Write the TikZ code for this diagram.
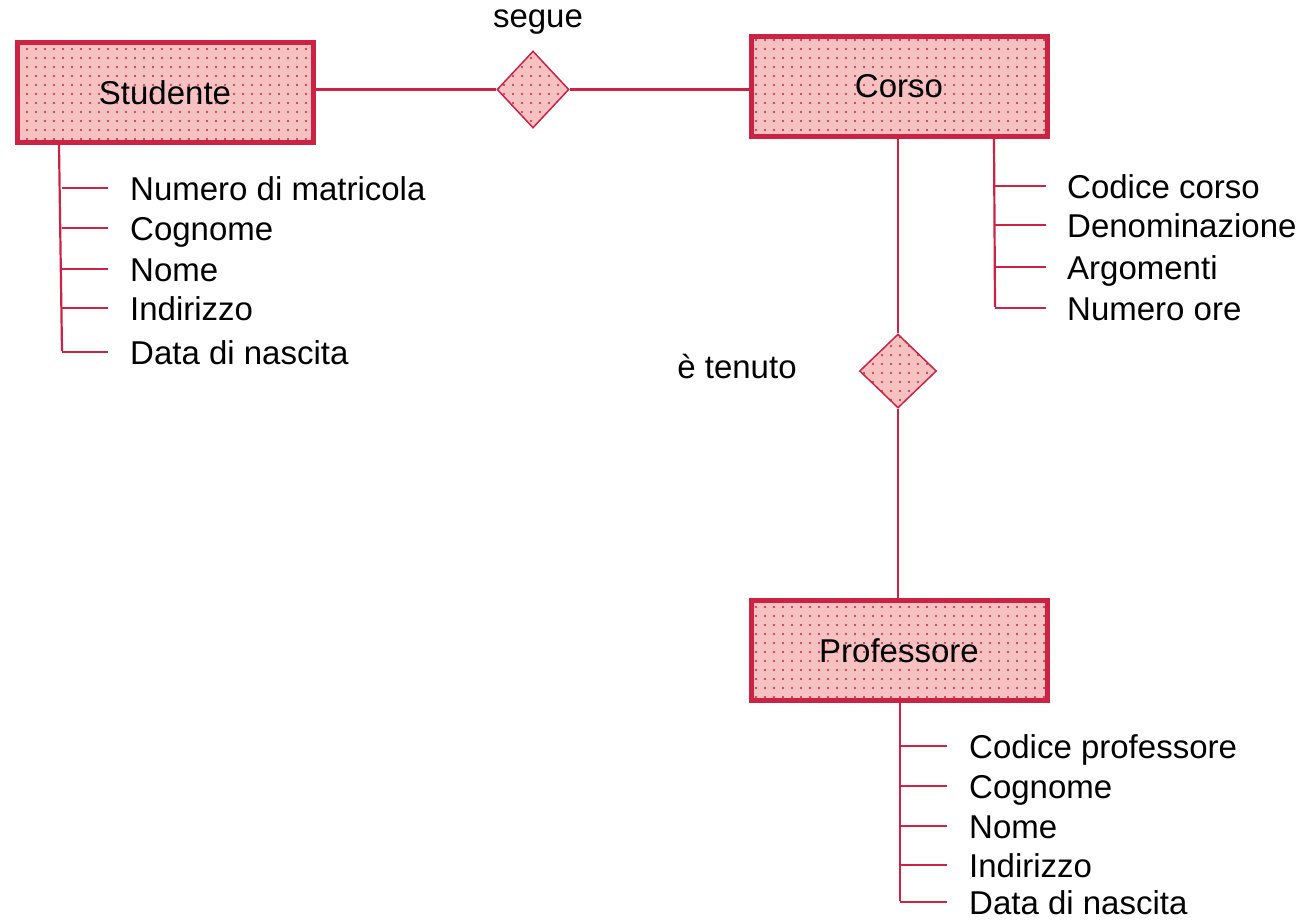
\documentclass[tikz,border=0pt]{standalone}
\usepackage{fontspec}
\setmainfont{Liberation Sans}
\usetikzlibrary{shapes.geometric,patterns.meta,positioning}
\definecolor{erRosso}{RGB}{204,34,68}
\definecolor{erRosa}{RGB}{245,193,193}
\tikzset{
  entita/.style={draw=erRosso, line width=5pt, minimum width=296pt, minimum height=100pt,
    inner sep=0pt, font=\fontsize{33}{40}\selectfont, preaction={fill=erRosa},
    pattern={Dots[distance=9pt,radius=1.1pt]}, pattern color=erRosso},
  relaz/.style={diamond, draw=erRosso, line width=1.5pt, inner sep=0pt,
    preaction={fill=erRosa}, pattern={Dots[distance=9pt,radius=1.1pt]}, pattern color=erRosso},
  collega/.style={draw=erRosso, line width=2.2pt},
  attr/.style={anchor=west, inner sep=0pt, text height=26pt, text depth=2pt,
    font=\fontsize{33}{40}\selectfont},
  etich/.style={inner sep=0pt, font=\fontsize{33}{40}\selectfont}
}
\begin{document}
\begin{tikzpicture}[x=1pt,y=-1pt]
\useasboundingbox (0,0) rectangle (1301,922);

% entita'
\node[entita] (studente) at (165,92.5) {Studente};
\node[entita] (corso) at (899,86.5) {Corso};
\node[entita] (professore) at (899,650.5) {Professore};

% relazioni
\node[relaz, minimum width=72pt, minimum height=77pt] (segue) at (533,89.5) {};
\node[etich] (segueLab) at (538,22) {segue};
\node[relaz, minimum width=77pt, minimum height=74pt] (tenuto) at (898,371) {};
\node[etich] (tenutoLab) at (737,367) {è tenuto};

\draw[collega] (segue.west) -- (segue.west -| studente.east);
\draw[collega] (segue.east) -- (segue.east -| corso.west);
\draw[collega] ([yshift=4pt]tenuto.north |- corso.south) -- (tenuto.north);
\draw[collega] (tenuto.south) -- (tenuto.south |- professore.north);

% attributi Studente
\coordinate (studBase) at ([xshift=44.5pt]studente.south west);
\foreach \yy/\testo [count=\i] in {188/Numero di matricola,228/Cognome,269/Nome,308/Indirizzo,352/Data di nascita}
  {
    \node[attr] (stud\i) at (130,\yy) {\testo};
    \draw[collega] ([xshift=-22pt]stud\i.west) -- ++(-46,0) coordinate (studNodo\i);
  }
\draw[collega] (studBase) -- ([yshift=1.1pt]studNodo5);

% attributi Corso
\coordinate (corsoBase) at ([xshift=95pt]corso.south);
\foreach \yy/\testo [count=\i] in {186/Codice corso,225/Denominazione,267/Argomenti,308/Numero ore}
  {
    \node[attr] (corsoAttr\i) at (1067,\yy) {\testo};
    \draw[collega] ([xshift=-21pt]corsoAttr\i.west) -- ++(-51,0) coordinate (corsoNodo\i);
  }
\draw[collega] (corsoBase) -- ([yshift=1.1pt]corsoNodo4);

% attributi Professore
\coordinate (profBase) at ([xshift=1pt]professore.south);
\foreach \yy/\testo [count=\i] in {746/Codice professore,786/Cognome,826/Nome,865/Indirizzo,902/Data di nascita}
  {
    \node[attr] (prof\i) at (969,\yy) {\testo};
    \draw[collega] ([xshift=-22pt]prof\i.west) -- ++(-47,0) coordinate (profNodo\i);
  }
\draw[collega] (profBase) -- ([yshift=1.1pt]profNodo5);

\end{tikzpicture}
\end{document}
